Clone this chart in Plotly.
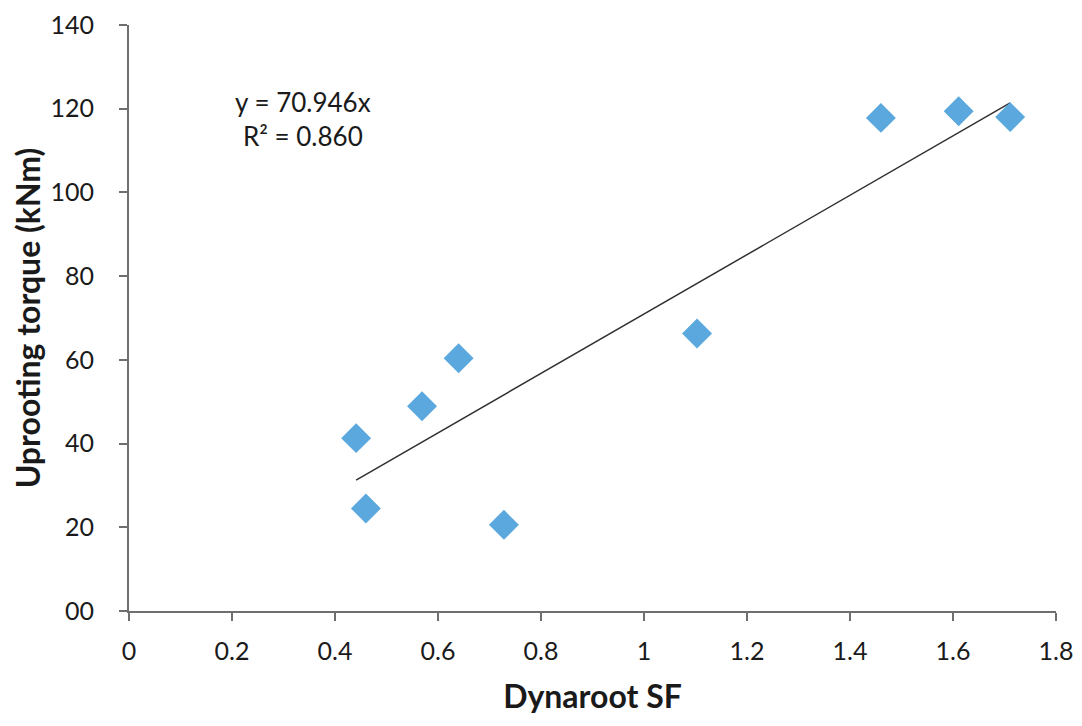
import plotly.graph_objs as go

# Dynaroot safety factor vs uprooting torque
dynaroot_sf = [0.441, 0.460, 0.569, 0.640, 0.728, 1.103, 1.460, 1.611, 1.711]
torque_knm = [41.3, 24.5, 48.9, 60.4, 20.6, 66.3, 117.8, 119.4, 118.0]

slope = 70.946
r_squared = 0.860

x_ticks = [0, 0.2, 0.4, 0.6, 0.8, 1.0, 1.2, 1.4, 1.6, 1.8]
x_tick_labels = ["0", "0.2", "0.4", "0.6", "0.8", "1", "1.2", "1.4", "1.6", "1.8"]
y_ticks = [0, 20, 40, 60, 80, 100, 120, 140]
y_tick_labels = ["00", "20", "40", "60", "80", "100", "120", "140"]

font_family = "Lato, 'Open Sans', sans-serif"
axis_color = "#6f6f6f"

trend_x = [min(dynaroot_sf), max(dynaroot_sf)]
trend_y = [slope * v for v in trend_x]

figure = go.Figure()

figure.add_trace(go.Scatter(
    x=trend_x,
    y=trend_y,
    mode="lines",
    line=dict(color="#303030", width=1.5),
    showlegend=False,
    hoverinfo="skip"
))

figure.add_trace(go.Scatter(
    x=dynaroot_sf,
    y=torque_knm,
    mode="markers",
    marker=dict(symbol="diamond", size=23, color="#5AA8DD", line=dict(width=0)),
    showlegend=False
))

# page body adds an 8px margin, so the figure is shrunk by that much
figure.update_layout(
    width=1074,
    height=718,
    plot_bgcolor="white",
    paper_bgcolor="white",
    font=dict(family=font_family, size=25, color="#1a1a1a"),
    margin=dict(l=121, r=26, t=17, b=115, autoexpand=False),
    annotations=[
        dict(
            text=f"y = {slope:.3f}x<br>R² = {r_squared:.3f}",
            x=0.338, y=117.5,
            xref="x", yref="y",
            showarrow=False,
            align="center",
            font=dict(size=26, color="#1a1a1a")
        )
    ],
    xaxis=dict(
        range=[0, 1.8],
        tickvals=x_ticks,
        ticktext=x_tick_labels,
        showgrid=False,
        zeroline=False,
        showline=True,
        linecolor=axis_color,
        linewidth=2,
        ticks="outside",
        ticklen=8,
        tickwidth=2,
        tickcolor=axis_color,
        ticklabelstandoff=9,
        title=dict(text="<b>Dynaroot SF</b>", font=dict(size=32), standoff=22)
    ),
    yaxis=dict(
        range=[0, 140],
        tickvals=y_ticks,
        ticktext=y_tick_labels,
        showgrid=False,
        zeroline=False,
        showline=True,
        linecolor=axis_color,
        linewidth=2,
        ticks="outside",
        ticklen=8,
        tickwidth=2,
        tickcolor=axis_color,
        ticklabelstandoff=20,
        ticklabeloverflow="allow",
        title=dict(text="<b>Uprooting torque (kNm)</b>", font=dict(size=32), standoff=14)
    )
)

figure.write_html("out.html")
